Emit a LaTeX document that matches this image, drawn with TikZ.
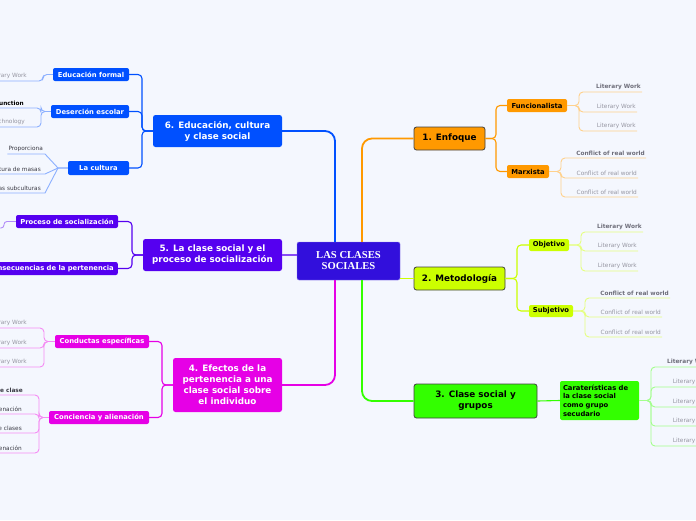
\documentclass[tikz,border=0pt]{standalone}
\usepackage{fontspec}
\setmainfont{DejaVu Sans}
\newfontfamily\rootfont{Liberation Serif}
\usepackage{tikz}
\usetikzlibrary{calc}
\definecolor{bgcol}{RGB}{244,247,254}
\definecolor{rootcol}{RGB}{50,15,220}
\definecolor{enfcol}{RGB}{255,153,0}
\definecolor{metcol}{RGB}{204,255,0}
\definecolor{grpcol}{RGB}{51,255,0}
\definecolor{efecol}{RGB}{230,0,230}
\definecolor{soccol}{RGB}{85,0,240}
\definecolor{educol}{RGB}{0,80,255}
\definecolor{leafgray}{RGB}{150,150,162}
\definecolor{leafdark}{RGB}{110,110,122}
\definecolor{leafblack}{RGB}{60,60,70}

\begin{document}
\begin{tikzpicture}[x=1pt, y=-1pt,
  root/.style={fill=rootcol, draw=rootcol!55, rounded corners=2pt, text=white,
    font=\rootfont\bfseries\fontsize{10.6}{11}\selectfont, align=center,
    minimum width=103pt, minimum height=38pt, inner sep=0pt},
  topic/.style={rounded corners=2.5pt, font=\bfseries\fontsize{8.8}{11}\selectfont,
    align=center, inner sep=0pt},
  subtopic/.style={rounded corners=2pt, font=\bfseries\fontsize{6.8}{8.6}\selectfont,
    inner sep=0pt, minimum height=13pt},
  leaf/.style={anchor=south east, inner xsep=1pt, inner ysep=2.5pt,
    font=\fontsize{5.8}{6.5}\selectfont, text=leafgray},
  leafhead/.style={leaf, font=\bfseries\fontsize{5.8}{6.5}\selectfont, text=leafdark},
  trunk/.style={line width=1.8pt, rounded corners=10pt},
  twig/.style={line width=1.1pt, rounded corners=4pt},
  leafline/.style={line width=0.9pt, rounded corners=4pt}]

  % canvas
  \fill[bgcol] (0,0) rectangle (696,520);
  \useasboundingbox (0,0) rectangle (696,520);

  % central topic
  \node[root] (centre) at (348.5,261) {LAS CLASES\\SOCIALES};

  % main topics, right
  \node[topic, fill=enfcol, draw=black!75, line width=0.8pt, minimum width=71pt, minimum height=23pt]
    (enfoque) at (449.5,138.5) {1. Enfoque};
  \node[topic, fill=metcol, draw=black!75, line width=0.8pt, minimum width=91pt, minimum height=23pt]
    (metodo) at (459.5,278.5) {2. Metodología};
  \node[topic, fill=grpcol, draw=black!75, line width=0.8pt, minimum width=123pt, minimum height=34pt]
    (grupos) at (475.5,401) {3. Clase social y\\grupos};

  % main topics, left
  \node[topic, fill=efecol, text=white, minimum width=109pt, minimum height=54pt]
    (efectos) at (227.5,385) {4. Efectos de la\\pertenencia a una\\clase social sobre\\el individuo};
  \node[topic, fill=soccol, text=white, minimum width=139pt, minimum height=32pt]
    (socializ) at (212.5,255) {5. La clase social y el\\proceso de socialización};
  \node[topic, fill=educol, text=white, minimum width=129pt, minimum height=32pt]
    (educ) at (217.5,131) {6. Educación, cultura\\y clase social};

  % trunk lines
  \draw[trunk, enfcol] ([xshift=13.5pt]centre.north) |- (enfoque.west);
  \draw[trunk, metcol] (centre.east |- metodo.west) -- (metodo.west);
  \draw[trunk, grpcol] ([xshift=13.5pt]centre.south) |- (grupos.west);
  \draw[trunk, educol] ([xshift=-13.5pt]centre.north) |- (educ.east);
  \draw[trunk, soccol!70] (centre.west |- socializ.east) -- (socializ.east);
  \draw[trunk, efecol] ([xshift=-13.5pt]centre.south) |- (efectos.east);

  % 1. Enfoque
  \node[subtopic, fill=enfcol, minimum width=60pt] (funcional) at (537,105.5) {Funcionalista};
  \node[subtopic, fill=enfcol, minimum width=42pt] (marxista) at (528,171.5) {Marxista};
  \draw[twig, enfcol] (enfoque.east) -- (496,138.5) |- (funcional.west);
  \draw[twig, enfcol] (enfoque.east) -- (496,138.5) |- (marxista.west);

  \node[leafhead] (fu1) at (642,92) {Literary Work};
  \node[leaf] (fu2) at (637,112) {Literary Work};
  \node[leaf] (fu3) at (637,131) {Literary Work};
  \draw[leafline, enfcol!45] (funcional.east) -- (579,105.5) |- (fu1.south east);
  \draw[leafline, enfcol!45] (funcional.east) -- (579,105.5) |- (fu2.south east);
  \draw[leafline, enfcol!45] (funcional.east) -- (579,105.5) |- (fu3.south east);

  \node[leafhead] (mx1) at (646,158) {Conflict of real world};
  \node[leaf] (mx2) at (638,178) {Conflict of real world};
  \node[leaf] (mx3) at (638,197) {Conflict of real world};
  \draw[leafline, enfcol!45] (marxista.east) -- (561,171.5) |- (mx1.south east);
  \draw[leafline, enfcol!45] (marxista.east) -- (561,171.5) |- (mx2.south east);
  \draw[leafline, enfcol!45] (marxista.east) -- (561,171.5) |- (mx3.south east);

  % 2. Metodologia
  \node[subtopic, fill=metcol, minimum width=40pt, minimum height=12pt] (objetivo) at (549,245) {Objetivo};
  \node[subtopic, fill=metcol, minimum width=44pt, minimum height=12pt] (subjetivo) at (551,311) {Subjetivo};
  \draw[twig, metcol] (metodo.east) -- (517,278.5) |- (objetivo.west);
  \draw[twig, metcol] (metodo.east) -- (517,278.5) |- (subjetivo.west);

  \node[leafhead] (ob1) at (643,232) {Literary Work};
  \node[leaf] (ob2) at (638,251) {Literary Work};
  \node[leaf] (ob3) at (638,271) {Literary Work};
  \draw[leafline, metcol!50] (objetivo.east) -- (581,245) |- (ob1.south east);
  \draw[leafline, metcol!50] (objetivo.east) -- (581,245) |- (ob2.south east);
  \draw[leafline, metcol!50] (objetivo.east) -- (581,245) |- (ob3.south east);

  \node[leafhead] (sb1) at (670,298) {Conflict of real world};
  \node[leaf] (sb2) at (662,317) {Conflict of real world};
  \node[leaf] (sb3) at (662,337) {Conflict of real world};
  \draw[leafline, metcol!50] (subjetivo.east) -- (585,311) |- (sb1.south east);
  \draw[leafline, metcol!50] (subjetivo.east) -- (585,311) |- (sb2.south east);
  \draw[leafline, metcol!50] (subjetivo.east) -- (585,311) |- (sb3.south east);

  % 3. Clase social y grupos
  \node[subtopic, fill=grpcol, align=left, text width=73pt, minimum width=79pt, minimum height=39pt,
    inner xsep=3pt] (caract) at (599.5,400.5)
    {Caraterísticas de\\la clase social\\como grupo\\secudario};
  \draw[twig, grpcol] (grupos.east) -- (caract.west);

  \node[leafhead] (cr1) at (713,367) {Literary Work};
  \node[leaf] (cr2) at (713,387) {Literary Work};
  \node[leaf] (cr3) at (713,407) {Literary Work};
  \node[leaf] (cr4) at (713,426) {Literary Work};
  \node[leaf] (cr5) at (713,446) {Literary Work};
  \draw[leafline, grpcol!45] (caract.east) -- (651,400.5) |- (cr1.south east);
  \draw[leafline, grpcol!45] (caract.east) -- (651,400.5) |- (cr2.south east);
  \draw[leafline, grpcol!45] (caract.east) -- (651,400.5) |- (cr3.south east);
  \draw[leafline, grpcol!45] (caract.east) -- (651,400.5) |- (cr4.south east);
  \draw[leafline, grpcol!45] (caract.east) -- (651,400.5) |- (cr5.south east);

  % 6. Educacion, cultura y clase social
  \node[subtopic, fill=educol, text=white, minimum width=76pt] (formal) at (91,74.5) {Educación formal};
  \node[subtopic, fill=educol, text=white, minimum width=78pt] (desercion) at (90,111.5) {Deserción escolar};
  \node[subtopic, fill=educol, text=white, minimum width=61pt, minimum height=14pt] (cultura) at (98.5,168) {La cultura};
  \draw[twig, educol] (educ.west) -- (142,131) |- (formal.east);
  \draw[twig, educol] (educ.west) -- (142,131) |- (desercion.east);
  \draw[twig, educol] (educ.west) -- (142,131) |- (cultura.east);

  \node[leaf] (ef1) at (28,81) {Literary Work};
  \draw[leafline, educol!45] (formal.west) -- (43,74.5) |- (ef1.south west);

  \node[leafhead, text=black] (de1) at (25,108) {Function};
  \node[leaf] (de2) at (26,127) {Technology};
  \draw[leafline, educol!45] (desercion.west) -- (41,111.5) |- (de1.south west);
  \draw[leafline, educol!45] (desercion.west) -- (41,111.5) |- (de2.south west);

  \node[leaf, text=leafblack] (lc1) at (44,154) {Proporciona};
  \node[leaf, text=leafblack] (lc2) at (42,174) {Cultura de masas};
  \node[leaf, text=leafblack] (lc3) at (42,193) {Las subculturas};
  \draw[leafline, educol!45, rounded corners=0pt] (cultura.west) -- (58,168) -- (45,154) -- (lc1.south west);
  \draw[leafline, educol!45, rounded corners=0pt] (cultura.west) -- (58,168) -- (45,174) -- (lc2.south west);
  \draw[leafline, educol!45, rounded corners=0pt] (cultura.west) -- (58,168) -- (45,193) -- (lc3.south west);

  % 5. La clase social y el proceso de socializacion
  \node[subtopic, fill=soccol, text=white, minimum width=102pt] (proceso) at (67,221.5) {Proceso de socialización};
  \node[subtopic, fill=soccol, text=white, anchor=east, inner xsep=4pt] (consec) at (118,268.5)
    {Consecuencias de la pertenencia};
  \draw[twig, soccol] (socializ.west) -- (132,255) |- (proceso.east);
  \draw[twig, soccol] (socializ.west) -- (132,255) |- (consec.east);

  \coordinate (pr1) at (-10,228);
  \draw[leafline, soccol!45, rounded corners=3pt] (proceso.west) -- (4,221.5) |- (pr1);

  % 4. Efectos de la pertenencia
  \node[subtopic, fill=efecol, text=white, minimum width=94pt] (conductas) at (102,341.5) {Conductas específicas};
  \node[subtopic, fill=efecol, text=white, minimum width=100pt] (conciencia) at (99,417.5) {Conciencia y alienación};
  \draw[twig, efecol] (efectos.west) -- (162,385) |- (conductas.east);
  \draw[twig, efecol] (efectos.west) -- (162,385) |- (conciencia.east);

  \node[leaf] (co1) at (28,328) {Literary Work};
  \node[leaf] (co2) at (28,348) {Literary Work};
  \node[leaf] (co3) at (28,367) {Literary Work};
  \draw[leafline, efecol!45] (conductas.west) -- (44,341.5) |- (co1.south west);
  \draw[leafline, efecol!45] (conductas.west) -- (44,341.5) |- (co2.south west);
  \draw[leafline, efecol!45] (conductas.west) -- (44,341.5) |- (co3.south west);

  \node[leafhead, text=leafblack] (ca1) at (24,395) {Conciencia de clase};
  \node[leaf, text=leafblack] (ca2) at (23,414) {Alienación};
  \node[leaf, text=leafblack] (ca3) at (23,433) {Lucha de clases};
  \node[leaf, text=leafblack] (ca4) at (23,453) {Alienación};
  \draw[leafline, efecol!45] (conciencia.west) -- (39,417.5) |- (ca1.south west);
  \draw[leafline, efecol!45] (conciencia.west) -- (39,417.5) |- (ca2.south west);
  \draw[leafline, efecol!45] (conciencia.west) -- (39,417.5) |- (ca3.south west);
  \draw[leafline, efecol!45] (conciencia.west) -- (39,417.5) |- (ca4.south west);
\end{tikzpicture}
\end{document}
